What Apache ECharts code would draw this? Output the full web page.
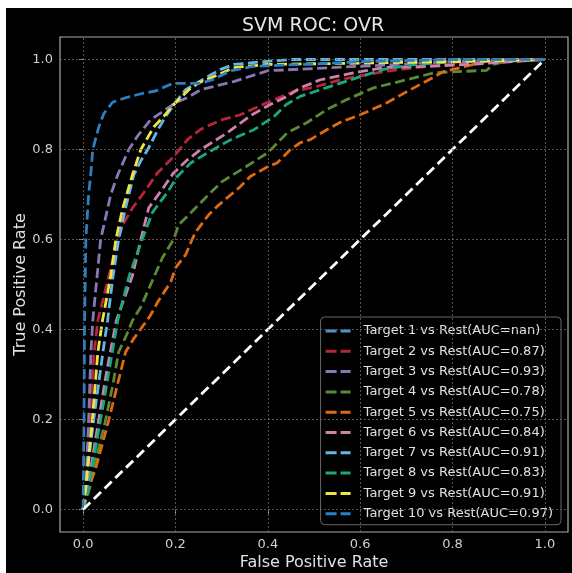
<!DOCTYPE html>
<html>
<head>
<meta charset="utf-8">
<script src="https://cdn.jsdelivr.net/npm/echarts@6/dist/echarts.min.js"></script>
<style>
html,body{margin:0;padding:0;background:#fff;width:572px;height:573px;overflow:hidden;}
#c{position:absolute;left:6px;top:8px;width:566px;height:565px;background:#000;}
</style>
</head>
<body>
<div id="c"></div>
<script>
// ---- data ----
const tickValues = [0, 0.2, 0.4, 0.6, 0.8, 1.0];
const targetNames = [
  'Target 1 vs Rest(AUC=nan)','Target 2 vs Rest(AUC=0.87)','Target 3 vs Rest(AUC=0.93)',
  'Target 4 vs Rest(AUC=0.78)','Target 5 vs Rest(AUC=0.75)','Target 6 vs Rest(AUC=0.84)',
  'Target 7 vs Rest(AUC=0.91)','Target 8 vs Rest(AUC=0.83)','Target 9 vs Rest(AUC=0.91)',
  'Target 10 vs Rest(AUC=0.97)'
];
const target1 = [];
const target2 = [[0,0],[0.006,0.05],[0.014,0.2],[0.024,0.35],[0.032,0.42],[0.056,0.52],[0.075,0.6],[0.086,0.633],[0.107,0.67],[0.132,0.705],[0.161,0.748],[0.196,0.784],[0.226,0.822],[0.255,0.845],[0.3,0.866],[0.34,0.877],[0.4,0.905],[0.456,0.929],[0.506,0.94],[0.557,0.955],[0.65,0.973],[0.72,0.982],[0.795,0.989],[0.9,1],[1,1]];
const target3 = [[0,0],[0.006,0.05],[0.012,0.2],[0.017,0.35],[0.021,0.42],[0.038,0.6],[0.06,0.7],[0.075,0.744],[0.099,0.8],[0.118,0.83],[0.146,0.866],[0.172,0.884],[0.2,0.904],[0.229,0.917],[0.255,0.933],[0.326,0.951],[0.4,0.975],[0.5,0.98],[0.6,0.985],[0.7,0.99],[0.8,0.995],[1,1]];
const target4 = [[0,0],[0.015,0.05],[0.03,0.12],[0.049,0.2],[0.065,0.28],[0.077,0.35],[0.095,0.39],[0.107,0.42],[0.125,0.45],[0.14,0.485],[0.172,0.56],[0.196,0.6],[0.207,0.633],[0.229,0.655],[0.272,0.7],[0.3,0.728],[0.35,0.76],[0.4,0.793],[0.442,0.837],[0.485,0.86],[0.528,0.889],[0.571,0.911],[0.629,0.937],[0.7,0.955],[0.758,0.97],[0.81,0.973],[0.874,0.976],[0.888,0.989],[0.916,0.996],[1,1]];
const target5 = [[0,0],[0.012,0.05],[0.027,0.09],[0.056,0.2],[0.075,0.28],[0.092,0.35],[0.11,0.38],[0.131,0.41],[0.145,0.43],[0.161,0.46],[0.19,0.506],[0.2,0.537],[0.222,0.566],[0.236,0.6],[0.244,0.617],[0.272,0.655],[0.294,0.677],[0.34,0.717],[0.362,0.74],[0.4,0.762],[0.42,0.77],[0.449,0.8],[0.47,0.815],[0.492,0.822],[0.528,0.844],[0.56,0.862],[0.6,0.877],[0.658,0.904],[0.709,0.933],[0.758,0.96],[0.78,0.973],[0.83,0.985],[0.874,0.996],[1,1]];
const target6 = [[0,0],[0.01,0.05],[0.034,0.2],[0.05,0.3],[0.072,0.42],[0.107,0.52],[0.125,0.6],[0.142,0.67],[0.175,0.717],[0.196,0.748],[0.226,0.777],[0.255,0.8],[0.312,0.837],[0.362,0.875],[0.405,0.9],[0.442,0.918],[0.47,0.937],[0.514,0.955],[0.6,0.973],[0.65,0.982],[0.75,0.985],[0.85,0.99],[1,1]];
const target7 = [[0,0],[0.005,0.05],[0.023,0.2],[0.043,0.35],[0.053,0.42],[0.065,0.52],[0.077,0.6],[0.092,0.67],[0.11,0.744],[0.125,0.775],[0.14,0.8],[0.162,0.844],[0.179,0.874],[0.2,0.904],[0.222,0.933],[0.25,0.95],[0.275,0.965],[0.298,0.978],[0.326,0.989],[0.4,0.996],[0.45,1],[1,1]];
const target8 = [[0,0],[0.012,0.05],[0.038,0.2],[0.075,0.42],[0.1,0.52],[0.128,0.6],[0.15,0.66],[0.182,0.704],[0.204,0.74],[0.233,0.77],[0.27,0.793],[0.32,0.822],[0.37,0.844],[0.413,0.873],[0.44,0.9],[0.47,0.918],[0.514,0.933],[0.58,0.955],[0.65,0.978],[0.72,0.989],[0.8,0.995],[1,1]];
const target9 = [[0,0],[0.006,0.05],[0.02,0.2],[0.032,0.35],[0.042,0.42],[0.06,0.52],[0.071,0.6],[0.086,0.67],[0.107,0.744],[0.125,0.8],[0.153,0.85],[0.175,0.874],[0.2,0.904],[0.229,0.933],[0.25,0.948],[0.29,0.965],[0.326,0.982],[0.4,0.989],[0.6,0.992],[0.8,0.995],[1,1]];
const target10 = [[0,0],[0.002,0.2],[0.003,0.4],[0.006,0.6],[0.012,0.7],[0.017,0.75],[0.021,0.8],[0.034,0.85],[0.045,0.88],[0.064,0.905],[0.092,0.915],[0.13,0.925],[0.157,0.93],[0.194,0.947],[0.255,0.947],[0.28,0.955],[0.32,0.975],[0.37,0.985],[0.5,0.99],[0.6,0.995],[0.8,1],[1,1]];
const chanceLine = [[0,0],[1,1]];
const colors = ['#4a95c8','#b8243a','#8878b4','#5a8a33','#e06a10','#d080ac','#60b8ea','#1aa880','#f0e442','#2a80c0'];

const allTargets = [target1,target2,target3,target4,target5,target6,target7,target8,target9,target10];
const font = 'DejaVu Sans';
const chart = echarts.init(document.getElementById('c'), null, {renderer:'canvas'});
const dashIcon = 'path://M0,0H11V3H0Z M15,0H25V3H15Z';

const series = [{
  name: 'grid', type: 'line', data: [], z: 1, silent: true,
  markLine: {
    silent: true, symbol: 'none', label: {show:false}, animation:false,
    lineStyle: {color:'#6a6a6a', width:0.8, type:[2,2]},
    data: tickValues.map(v => ({xAxis: v})).concat(tickValues.map(v => ({yAxis: v})))
  }
}];
allTargets.forEach((d, i) => {
  series.push({
    name: targetNames[i], type: 'line', data: d, showSymbol: false, symbol: 'none',
    z: 3, animation: false, color: colors[i],
    lineStyle: {color: colors[i], width: 2.8, type: [10, 4.5]}
  });
});
series.push({
  name: 'chance', type: 'line', data: chanceLine, showSymbol:false, symbol:'none', z: 4, animation:false,
  lineStyle: {color:'#ffffff', width: 2.8, type: [10, 5]}
});

chart.setOption({
  backgroundColor: '#000',
  animation: false,
  title: {
    text: 'SVM ROC: OVR', left: 231, top: 4,
    textStyle: {color:'#e6e6e6', fontFamily: font, fontSize: 19, fontWeight: 'normal'}
  },
  grid: {left: 54, top: 29, right: 4, bottom: 41, show: true, borderColor:'#aaaaaa', borderWidth: 1.2,
    backgroundColor:'transparent', outerBoundsMode: 'none', containLabel: false},
  legend: {
    orient: 'vertical', right: 11, top: 309,
    data: targetNames.map(n => ({name: n, icon: dashIcon})),
    itemWidth: 25, itemHeight: 3, itemGap: 6.3,
    padding: [7, 8, 4, 5],
    backgroundColor: 'rgba(0,0,0,0.8)', borderColor: '#666', borderWidth: 1, borderRadius: 4,
    textStyle: {color:'#e0e0e0', fontFamily: font, fontSize: 13, lineHeight: 14, padding:[0,0,0,8]}
  },
  xAxis: {
    type: 'value', min: -0.05, max: 1.05,
    name: 'False Positive Rate', nameLocation: 'middle', nameGap: 23, nameMoveOverlap: false,
    nameTextStyle: {color:'#e0e0e0', fontFamily: font, fontSize: 16},
    axisLine: {show: false},
    axisTick: {show: true, length: 4, lineStyle:{color:'#aaa'}, customValues: tickValues},
    axisLabel: {color:'#d0d0d0', fontFamily: font, fontSize: 13, margin: 6, customValues: tickValues,
      formatter: v => v.toFixed(1)},
    splitLine: {show: false}
  },
  yAxis: {
    type: 'value', min: -0.05, max: 1.05,
    name: 'True Positive Rate', nameLocation: 'middle', nameGap: 31, nameRotate: 90, nameMoveOverlap: false,
    nameTextStyle: {color:'#e0e0e0', fontFamily: font, fontSize: 16},
    axisLine: {show: false},
    axisTick: {show: true, length: 4, lineStyle:{color:'#aaa'}, customValues: tickValues},
    axisLabel: {color:'#d0d0d0', fontFamily: font, fontSize: 13, margin: 7, customValues: tickValues,
      formatter: v => v.toFixed(1)},
    splitLine: {show: false}
  },
  series: series
});
</script>
</body>
</html>
